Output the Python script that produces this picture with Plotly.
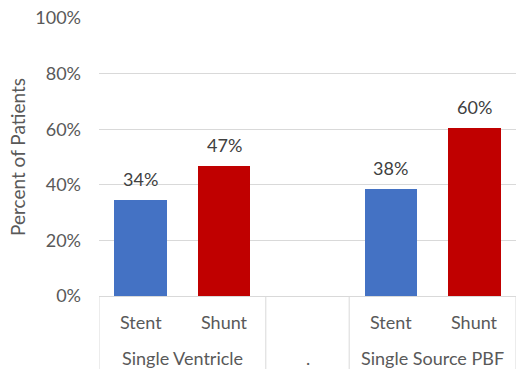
import plotly.graph_objects as go

groups = ["Single Ventricle", ".", "Single Source PBF"]
group_sizes = [2, 1, 2]
subcats = ["Stent", "Shunt", "", "Stent", "Shunt"]
values = [34.4, 46.6, None, 38.4, 60.4]
colors = ["#4472C4", "#C00000", "#FFFFFF", "#4472C4", "#C00000"]
y_ticks = [0, 20, 40, 60, 80, 100]
y_labels = [f"{v}%" for v in y_ticks]

FONT = "Lato"
x_pos = [i + 0.5 for i in range(len(subcats))]

fig = go.Figure()
fig.add_trace(go.Bar(
    x=x_pos, y=values, width=0.63,
    marker=dict(color=colors, line=dict(width=0)),
    hoverinfo="skip",
))

H = 278.0
def py(pix):
    return (296 - pix) / H

annotations = []
for x, v in zip(x_pos, values):
    if v is not None:
        annotations.append(dict(x=x, y=v, xref="x", yref="y", text=f"{v:.0f}%",
                                yanchor="middle", xanchor="center", yshift=21,
                                showarrow=False, font=dict(family=FONT, size=18, color="#404040")))
for x, s in zip(x_pos, subcats):
    if s:
        annotations.append(dict(x=x, y=py(322), xref="x", yref="paper", text=s,
                                yanchor="middle", xanchor="center",
                                showarrow=False, font=dict(family=FONT, size=18, color="#595959")))
start = 0
bounds = [0]
for g, n in zip(groups, group_sizes):
    annotations.append(dict(x=start + n / 2, y=py(358), xref="x", yref="paper", text=g,
                            yanchor="middle", xanchor="center",
                            showarrow=False, font=dict(family=FONT, size=18, color="#595959")))
    start += n
    bounds.append(start)

shapes = []
for b in bounds:
    shapes.append(dict(type="line", xref="x", yref="paper", x0=b, x1=b, y0=0, y1=py(372),
                       line=dict(color="#D9D9D9", width=1)))

fig.update_layout(
    width=517, height=369,
    margin=dict(l=99, r=1, t=18, b=73),
    paper_bgcolor="white", plot_bgcolor="white",
    showlegend=False,
    bargap=0,
    annotations=annotations, shapes=shapes,
    font=dict(family=FONT, color="#595959"),
    xaxis=dict(range=[0, len(subcats)], showticklabels=False, showgrid=False,
               zeroline=False, showline=True, linecolor="#D9D9D9", linewidth=1, ticks=""),
    yaxis=dict(range=[0, 100], tickvals=y_ticks, ticktext=y_labels,
               showgrid=True, gridcolor="#D9D9D9", gridwidth=1, zeroline=False,
               tickfont=dict(family=FONT, size=18, color="#595959"), ticks="", ticklen=0,
               ticklabelstandoff=17,
               title=dict(text="Percent of Patients", font=dict(family=FONT, size=19, color="#595959"),
                          standoff=4)),
)

fig.write_html("out.html")
